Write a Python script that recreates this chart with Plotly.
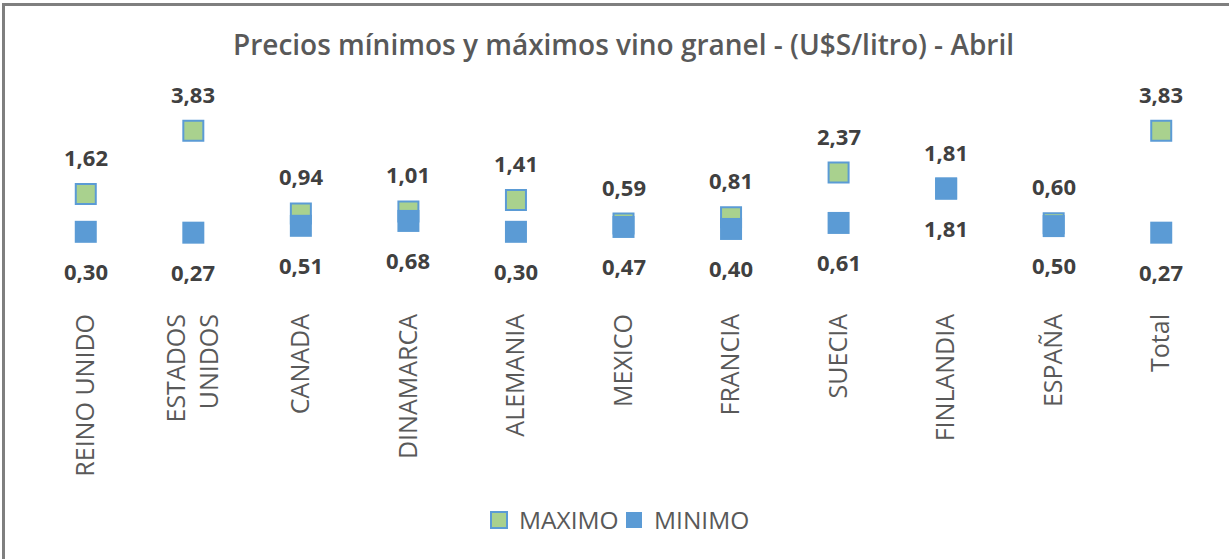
import plotly.graph_objects as go

# Bulk wine export prices by destination (U$S per litre), April
paises = ["REINO UNIDO", "ESTADOS<br>UNIDOS", "CANADA", "DINAMARCA", "ALEMANIA",
          "MEXICO", "FRANCIA", "SUECIA", "FINLANDIA", "ESPAÑA", "Total"]
maximo = [1.62, 3.83, 0.94, 1.01, 1.41, 0.59, 0.81, 2.37, 1.81, 0.60, 3.83]
minimo = [0.30, 0.27, 0.51, 0.68, 0.30, 0.47, 0.40, 0.61, 1.81, 0.50, 0.27]

VERDE = "#A9D18E"
AZUL = "#5B9BD5"
GRIS_TEXTO = "#595959"
GRIS_ETIQ = "#404040"
FUENTE = "Open Sans"


def fmt(v):
    return f"{v:.2f}".replace(".", ",")


fig = go.Figure()

fig.add_trace(go.Scatter(
    x=paises, y=maximo, name="MAXIMO", mode="markers",
    marker=dict(symbol="square", size=20, color=VERDE,
                line=dict(color=AZUL, width=2)),
    hoverinfo="skip",
))
fig.add_trace(go.Scatter(
    x=paises, y=minimo, name="MINIMO", mode="markers",
    marker=dict(symbol="square", size=22, color=AZUL,
                line=dict(color=AZUL, width=0)),
    hoverinfo="skip",
))

# value labels: maximum above the marker, minimum below
anots = []
for p, v in zip(paises, maximo):
    anots.append(dict(x=p, y=v, text=fmt(v), showarrow=False, yshift=37,
                      font=dict(family=FUENTE, size=22, color=GRIS_ETIQ, weight=700)))
for p, v in zip(paises, minimo):
    anots.append(dict(x=p, y=v, text=fmt(v), showarrow=False, yshift=-39,
                      font=dict(family=FUENTE, size=22, color=GRIS_ETIQ, weight=700)))

# outer frame of the chart area
L, R, T, B = 32, 14, 110, 251
W, H = 1229, 559
pw, ph = W - L - R, H - T - B


def px_x(px):
    return (px - L) / pw


def px_y(py):
    return (H - B - py) / ph


fig.update_layout(
    width=W, height=H,
    margin=dict(l=L, r=R, t=T, b=B),
    paper_bgcolor="white", plot_bgcolor="white",
    title=dict(text="Precios mínimos y máximos vino granel - (U$S/litro) - Abril",
               x=0.5, xref="paper", xanchor="center", y=1 - 45 / H, yanchor="middle",
               font=dict(family=FUENTE, size=28, color=GRIS_TEXTO, weight=600)),
    xaxis=dict(showgrid=False, zeroline=False, showline=False, ticks="",
               tickangle=-90, tickfont=dict(family=FUENTE, size=25, color=GRIS_TEXTO),
               range=[-0.5, len(paises) - 0.5]),
    yaxis=dict(visible=False, range=[-2.362, 4.556]),
    showlegend=True,
    legend=dict(orientation="h", x=px_x(614), xanchor="center", y=px_y(520), yanchor="middle",
                font=dict(family=FUENTE, size=24.5, color=GRIS_TEXTO),
                itemwidth=30, entrywidth=90, entrywidthmode="pixels", tracegroupgap=0),
    annotations=anots,
    shapes=[dict(type="rect", xref="paper", yref="paper",
                 x0=px_x(3.5), x1=px_x(1240), y0=px_y(570), y1=px_y(4.5),
                 line=dict(color="#7F7F7F", width=3), layer="above")],
)

fig.write_html("out.html")
